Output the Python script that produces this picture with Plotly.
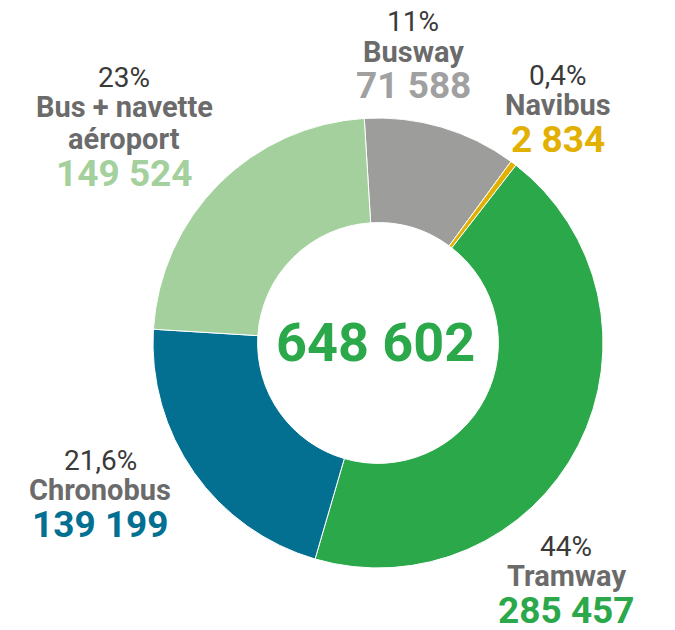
import plotly.graph_objects as go

# données
labels = ["Busway", "Navibus", "Tramway", "Chronobus", "Bus + navette<br>aéroport"]
values = [71588, 2834, 285457, 139199, 149524]
pcts = ["11%", "0,4%", "44%", "21,6%", "23%"]
colors = ["#9d9d9c", "#e2b000", "#2ba84a", "#036f91", "#a3d09c"]
value_colors = ["#a0a0a0", "#e2b000", "#2ba84a", "#036f91", "#a3d09c"]
total = sum(values)

def fmt(n):
    return f"{n:,}".replace(",", " ")

fig = go.Figure(go.Pie(
    labels=labels,
    values=values,
    hole=0.535,
    sort=False,
    direction="clockwise",
    rotation=-3.5,
    marker=dict(colors=colors, line=dict(color="white", width=1)),
    textinfo="none",
    showlegend=False,
    domain=dict(x=[153/675, 603/675], y=[1-568/630, 1-118/630]),
))

# positions des étiquettes (px): centre x, y du pourcentage
label_pos = [(413, 22), (558, 75), (566, 546), (100, 460), (124, 77)]

ann = []
def add(x, y, text, size, color, bold=False):
    ann.append(dict(
        x=x/675, y=1-y/630, xref="paper", yref="paper",
        text=f"<b>{text}</b>" if bold else text,
        showarrow=False, xanchor="center", yanchor="middle",
        font=dict(family="Roboto", size=size, color=color),
    ))

for lab, v, p, vc, (x, y) in zip(labels, values, pcts, value_colors, label_pos):
    add(x, y, p, 28, "#3a3a3a")
    yy = y + 30
    for part in lab.split("<br>"):
        add(x, yy, part, 29, "#6b6b6b", bold=True)
        yy += 32
    add(x, yy + 2, fmt(v), 37, vc, bold=True)

add(375, 343, fmt(total), 54, "#2ba84a", bold=True)

fig.update_layout(
    width=675, height=630,
    margin=dict(l=0, r=0, t=0, b=0),
    paper_bgcolor="white", plot_bgcolor="white",
    annotations=ann,
)
fig.write_html("out.html", config={"displayModeBar": False},
               post_script="document.body.style.margin='0';")
